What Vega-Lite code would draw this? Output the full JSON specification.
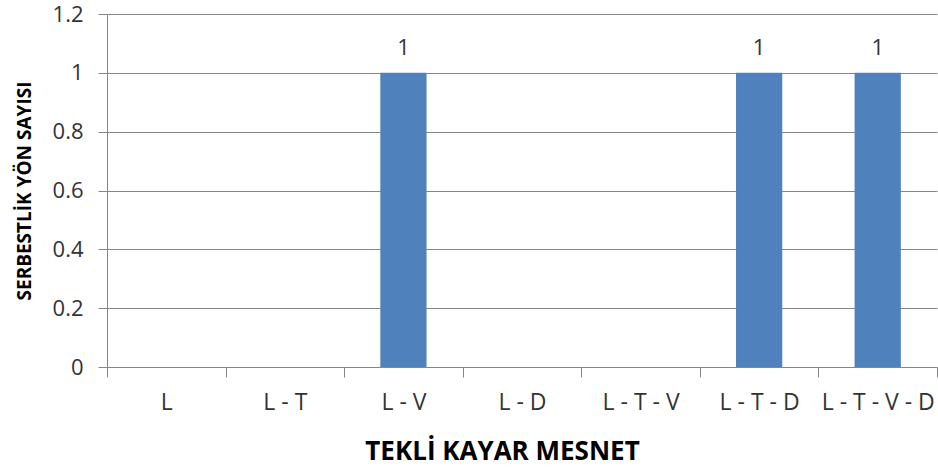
{
  "$schema": "https://vega.github.io/schema/vega-lite/v6.json",
  "autosize": "none",
  "width": 830,
  "height": 353,
  "padding": {"left": 107, "top": 14, "right": 1, "bottom": 105},
  "background": "white",
  "config": {
    "view": {"stroke": null},
    "font": "Open Sans"
  },
  "data": {
    "values": [
      {"cat": "L", "value": 0},
      {"cat": "L - T", "value": 0},
      {"cat": "L - V", "value": 1},
      {"cat": "L - D", "value": 0},
      {"cat": "L - T - V", "value": 0},
      {"cat": "L - T - D", "value": 1},
      {"cat": "L - T - V - D", "value": 1}
    ]
  },
  "encoding": {
    "x": {
      "field": "cat", "type": "nominal", "sort": null,
      "scale": {"paddingInner": 0, "paddingOuter": 0},
      "axis": {
        "title": "TEKLİ KAYAR MESNET",
        "titleFont": "Open Sans", "titleFontSize": 26, "titleFontWeight": "bold", "titleColor": "#000000",
        "titleX": 395, "titlePadding": 24,
        "labelAngle": 0, "labelFontSize": 23, "labelColor": "#333333", "labelPadding": 14,
        "tickBand": "extent", "tickSize": 10, "tickColor": "#868686", "domainColor": "#868686",
        "grid": false
      }
    },
    "y": {
      "field": "value", "type": "quantitative",
      "scale": {"domain": [0, 1.2], "nice": false},
      "axis": {
        "title": "SERBESTLİK YÖN SAYISI",
        "titleFont": "Open Sans", "titleFontSize": 19, "titleFontWeight": "bold", "titleColor": "#000000",
        "titlePadding": 18,
        "values": [0, 0.2, 0.4, 0.6, 0.8, 1, 1.2],
        "labelExpr": "datum.value == 0 ? '0' : datum.value == 1 ? '1' : format(datum.value, '.1f')",
        "labelFontSize": 22, "labelColor": "#333333", "labelPadding": 15,
        "tickSize": 9, "tickColor": "#868686", "domainColor": "#868686",
        "gridColor": "#868686", "gridWidth": 1
      }
    }
  },
  "layer": [
    {"mark": {"type": "bar", "color": "#4F81BD", "width": {"band": 0.39}}},
    {
      "transform": [{"filter": "datum.value > 0"}],
      "mark": {"type": "text", "dy": -25, "fontSize": 22, "color": "#333333", "font": "Open Sans"},
      "encoding": {"text": {"field": "value", "type": "quantitative"}}
    }
  ]
}
